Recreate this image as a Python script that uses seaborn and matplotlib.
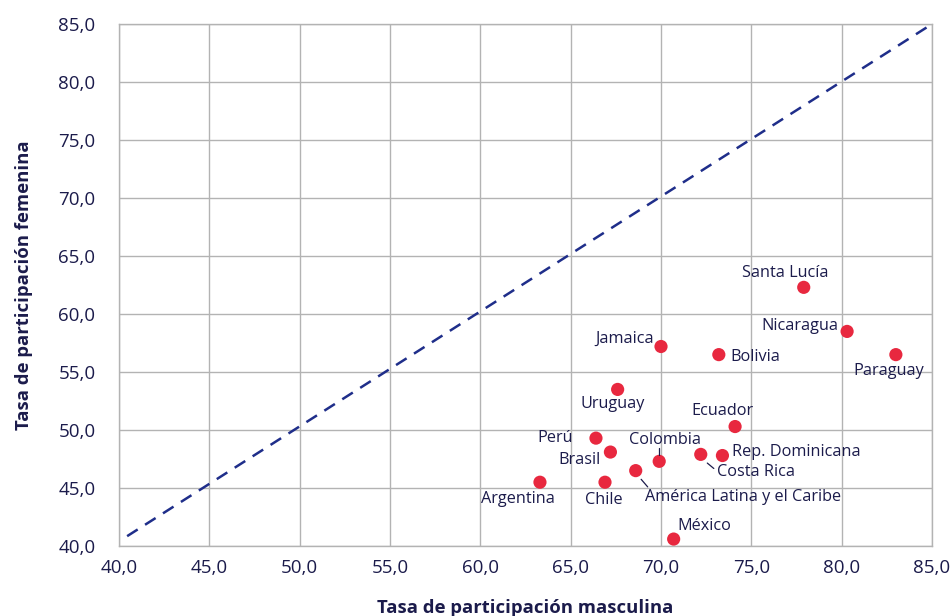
import matplotlib.pyplot as plt
import matplotlib.ticker as mticker
import pandas as pd
import seaborn as sns

# Tasa de participación por país (masculina vs femenina)
paises = [
    "Santa Lucía", "Nicaragua", "Paraguay", "Jamaica", "Bolivia", "Uruguay",
    "Ecuador", "Perú", "Brasil", "Colombia", "Rep. Dominicana", "Costa Rica",
    "América Latina y el Caribe", "Argentina", "Chile", "México",
]
tasa_masculina = [77.9, 80.3, 83.0, 70.0, 73.2, 67.6, 74.1, 66.4, 67.2, 69.9,
                  73.4, 72.2, 68.6, 63.3, 66.9, 70.7]
tasa_femenina = [62.3, 58.5, 56.5, 57.2, 56.5, 53.5, 50.3, 49.3, 48.1, 47.3,
                 47.8, 47.9, 46.5, 45.5, 45.5, 40.6]

# label offsets in pixels (dx, dy, ha) and optional leader line
offsets = {
    "Santa Lucía": (-18, 14, "center"),
    "Nicaragua": (-9, 5, "right"),
    "Paraguay": (-7, -16, "center"),
    "Jamaica": (-7, 8, "right"),
    "Bolivia": (12, -2, "left"),
    "Uruguay": (-5, -15, "center"),
    "Ecuador": (-13, 16, "center"),
    "Perú": (-23, 0, "right"),
    "Brasil": (-10, -8, "right"),
    "Colombia": (6, 21, "center"),
    "Rep. Dominicana": (10, 4, "left"),
    "Costa Rica": (16, -18, "left"),
    "América Latina y el Caribe": (9, -26, "left"),
    "Argentina": (-22, -17, "center"),
    "Chile": (-1, -18, "center"),
    "México": (4, 13, "left"),
}
leaders = {
    "Colombia": ((0, 6), (0, 12)),
    "Costa Rica": ((6, -8), (12, -13)),
    "América Latina y el Caribe": ((5, -8), (11, -15)),
}

df = pd.DataFrame({"pais": paises, "masc": tasa_masculina, "fem": tasa_femenina})

sns.set_style("white")
plt.rcParams["font.family"] = ["Open Sans", "DejaVu Sans"]

text_color = "#1b1b4b"
grid_color = "#b3b3b3"

fig = plt.figure(figsize=(9.52, 6.16), dpi=100)
ax = fig.add_axes([0.125, 0.1136, 0.854, 0.8474])

ax.plot([40.45, 85], [40.85, 85], linestyle=(0, (5, 3.5)), color="#1f2e8a",
        linewidth=1.8, zorder=2)

sns.scatterplot(data=df, x="masc", y="fem", ax=ax, color="#e8283f", s=90,
                edgecolor="none", zorder=3, legend=False)

inv = ax.transData.inverted()
for _, row in df.iterrows():
    dx, dy, ha = offsets[row["pais"]]
    ax.annotate(row["pais"], (row["masc"], row["fem"]), xytext=(dx, dy),
                textcoords="offset pixels", ha=ha, va="center",
                fontsize=11.7, color=text_color, zorder=4)
    if row["pais"] in leaders:
        (x0, y0), (x1, y1) = leaders[row["pais"]]
        p0 = ax.transData.transform((row["masc"], row["fem"]))
        a = inv.transform((p0[0] + x0, p0[1] + y0))
        b = inv.transform((p0[0] + x1, p0[1] + y1))
        ax.plot([a[0], b[0]], [a[1], b[1]], color=text_color, linewidth=0.9,
                zorder=4)

ax.set_xlim(40, 85)
ax.set_ylim(40, 85)
ax.xaxis.set_major_locator(mticker.MultipleLocator(5))
ax.yaxis.set_major_locator(mticker.MultipleLocator(5))
fmt = mticker.FuncFormatter(lambda v, p: f"{v:.1f}".replace(".", ","))
ax.xaxis.set_major_formatter(fmt)
ax.yaxis.set_major_formatter(fmt)
ax.tick_params(axis="both", length=0, labelsize=13.5, colors=text_color)
ax.tick_params(axis="x", pad=9)
ax.tick_params(axis="y", pad=17)

ax.grid(True, color=grid_color, linewidth=1)
ax.set_axisbelow(True)
for sp in ax.spines.values():
    sp.set_color(grid_color)
    sp.set_linewidth(1)

ax.set_xlabel("Tasa de participación masculina", fontsize=13.3,
              fontweight="bold", color=text_color, labelpad=16)
ax.set_ylabel("Tasa de participación femenina", fontsize=13.3,
              fontweight="bold", color=text_color, labelpad=18)

fig.savefig("out.png", dpi=100)
